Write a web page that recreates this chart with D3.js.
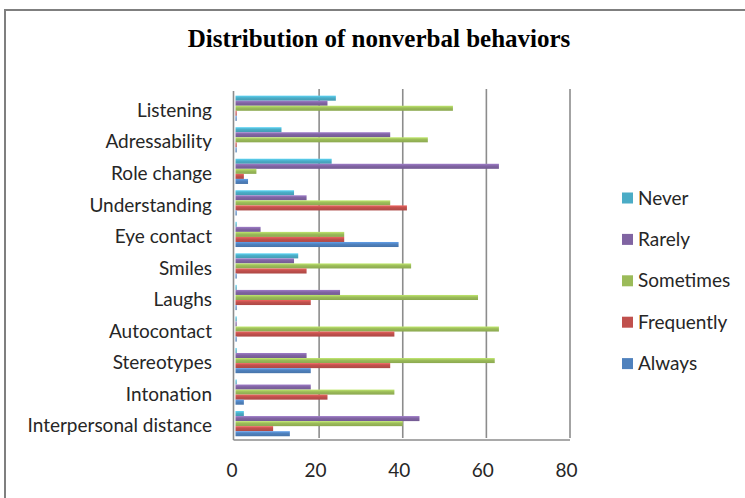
<!DOCTYPE html>
<html>
<head>
<meta charset="utf-8">
<script src="https://cdn.jsdelivr.net/npm/d3@7"></script>
<style>
  html, body { margin: 0; padding: 0; background: #ffffff; }
  svg { display: block; }
</style>
</head>
<body>
<svg id="chart" width="745" height="498"></svg>
<script>
const title = "Distribution of nonverbal behaviors";
const categories = ["Listening", "Adressability", "Role change", "Understanding", "Eye contact",
  "Smiles", "Laughs", "Autocontact", "Stereotypes", "Intonation", "Interpersonal distance"];
const seriesNames = ["Never", "Rarely", "Sometimes", "Frequently", "Always"];
const seriesColors = ["#4BACC6", "#8064A2", "#9BBB59", "#C0504D", "#4F81BD"];
const never      = [24, 11, 23, 14, 0, 15, 0, 0, 0, 0, 2];
const rarely     = [22, 37, 63, 17, 6, 14, 25, 0, 17, 18, 44];
const sometimes  = [52, 46, 5, 37, 26, 42, 58, 63, 62, 38, 40];
const frequently = [0, 0, 2, 41, 26, 17, 18, 38, 37, 22, 9];
const always     = [0, 0, 3, 0, 39, 0, 0, 0, 18, 2, 13];
const xTicks = [0, 20, 40, 60, 80];

const seriesValues = [never, rarely, sometimes, frequently, always];
const FONT = "Lato, 'Open Sans', sans-serif";
const FS = 19;

const svg = d3.select("#chart");

// frame
svg.append("rect").attr("x", 5).attr("y", 10).attr("width", 745).attr("height", 500)
  .attr("fill", "#fff").attr("stroke", "#7f7f7f").attr("stroke-width", 2);

svg.append("text").attr("x", 379).attr("y", 47).attr("text-anchor", "middle")
  .attr("font-family", "'Liberation Serif', 'Times New Roman', serif")
  .attr("font-weight", "bold").attr("font-size", 25).attr("fill", "#000")
  .text(title);

const x = d3.scaleLinear().domain([0, 80]).range([235.5, 570]);
const y = d3.scaleBand().domain(categories).range([92.5, 439.4]).paddingInner(0.2).paddingOuter(0.1);
const ySub = d3.scaleBand().domain(seriesNames).range([0, y.bandwidth()]);

// gradients for a slight 3D look
const defs = svg.append("defs");
seriesColors.forEach((c, i) => {
  const g = defs.append("linearGradient").attr("id", "g" + i)
    .attr("x1", 0).attr("y1", 0).attr("x2", 0).attr("y2", 1);
  g.append("stop").attr("offset", "0%").attr("stop-color", d3.color(c).brighter(0.6));
  g.append("stop").attr("offset", "45%").attr("stop-color", c);
  g.append("stop").attr("offset", "100%").attr("stop-color", d3.color(c).darker(0.3));
});

// gridlines
svg.append("g").selectAll("line").data(xTicks.slice(1)).join("line")
  .attr("x1", d => x(d)).attr("x2", d => x(d))
  .attr("y1", 89).attr("y2", 438)
  .attr("stroke", "#8c8c8c").attr("stroke-width", 1.6);

// left wall and floor
svg.append("line").attr("x1", 233.5).attr("x2", 233.5).attr("y1", 91).attr("y2", 440)
  .attr("stroke", "#8c8c8c").attr("stroke-width", 1.6);
svg.append("line").attr("x1", 233.5).attr("x2", 570).attr("y1", 440).attr("y2", 440)
  .attr("stroke", "#8c8c8c").attr("stroke-width", 1.6);

// bars
seriesNames.forEach((s, si) => {
  svg.append("g").selectAll("rect").data(seriesValues[si]).join("rect")
    .attr("x", x(0))
    .attr("y", (d, i) => y(categories[i]) + ySub(s))
    .attr("width", d => Math.max(x(d) - x(0), 1.2))
    .attr("height", ySub.bandwidth())
    .attr("fill", `url(#g${si})`);
});

// category labels
svg.append("g").selectAll("text").data(categories).join("text")
  .attr("x", 212).attr("y", d => y(d) + y.bandwidth() / 2 + 2)
  .attr("dy", "0.35em").attr("text-anchor", "end")
  .attr("font-family", FONT).attr("font-size", FS).attr("fill", "#262626")
  .text(d => d);

// x tick labels
svg.append("g").selectAll("text").data(xTicks).join("text")
  .attr("x", d => x(d) - 3.5).attr("y", 470).attr("dy", "0.35em").attr("text-anchor", "middle")
  .attr("font-family", FONT).attr("font-size", FS).attr("fill", "#262626")
  .text(d => d);

// legend
const leg = svg.append("g").selectAll("g").data(seriesNames).join("g")
  .attr("transform", (d, i) => `translate(622, ${198 + i * 41.4})`);
leg.append("rect").attr("x", 0).attr("y", -5.5).attr("width", 11).attr("height", 11)
  .attr("fill", (d, i) => seriesColors[i]);
leg.append("text").attr("x", 16).attr("y", 0).attr("dy", "0.35em")
  .attr("font-family", FONT).attr("font-size", FS).attr("fill", "#262626")
  .text(d => d);
</script>
</body>
</html>
